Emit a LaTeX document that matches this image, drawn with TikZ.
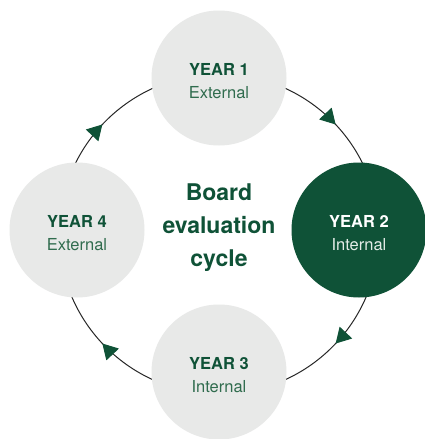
\documentclass[tikz,border=0pt]{standalone}
\usepackage{fontspec}
\setmainfont{TeX Gyre Heros}
\usetikzlibrary{arrows.meta,decorations.markings}
\definecolor{dkgreen}{RGB}{15,82,55}
\definecolor{midgreen}{RGB}{48,108,78}
\definecolor{ltgrey}{RGB}{232,233,232}
\definecolor{ltwhite}{RGB}{228,236,231}
\tikzset{
  yearbox/.style={circle, minimum size=135pt, inner sep=0pt, fill=ltgrey},
  yearboxdark/.style={yearbox, fill=dkgreen},
  yeartext/.style={align=center, font=\fontsize{16.5}{23}\selectfont, text=midgreen, inner sep=0pt},
  yeartextdark/.style={yeartext, text=ltwhite},
  ringline/.style={draw=black!85, line width=1pt},
  cyctip/.style={},
  cyclearrow/.style={postaction={decorate}, decoration={markings,
    mark=at position 0.12 with {\arrow{Triangle[length=15pt,width=17pt,fill=dkgreen,color=dkgreen]}},
    mark=at position 0.38 with {\arrow{Triangle[length=15pt,width=17pt,fill=dkgreen,color=dkgreen]}},
    mark=at position 0.62 with {\arrow{Triangle[length=15pt,width=17pt,fill=dkgreen,color=dkgreen]}},
    mark=at position 0.88 with {\arrow{Triangle[length=15pt,width=17pt,fill=dkgreen,color=dkgreen]}}}}
}
\begin{document}
\begin{tikzpicture}[x=1pt,y=-1pt]
\useasboundingbox (0,0) rectangle (425,439);
\fill[white] (0,0) rectangle (425,439);
\coordinate (ringc) at (219,234);
\draw[ringline, cyclearrow] (ringc) circle (160);
\node[yearbox] (y1) at (219,78) {};
\node[yearboxdark] (y2) at (359,230) {};
\node[yearbox] (y3) at (219,372) {};
\node[yearbox] (y4) at (77,230) {};
\node[yeartext, yshift=-3pt] (t1) at (y1) {{\bfseries\color{dkgreen}YEAR 1}\\External};
\node[yeartextdark, yshift=-3pt] (t2) at (y2) {{\bfseries\color{white}YEAR 2}\\Internal};
\node[yeartext, yshift=-3pt] (t3) at (y3) {{\bfseries\color{dkgreen}YEAR 3}\\Internal};
\node[yeartext, yshift=-3pt] (t4) at (y4) {{\bfseries\color{dkgreen}YEAR 4}\\External};
\node[align=center, font=\bfseries\fontsize{23}{33}\selectfont, text=dkgreen] (title) at (219,228) {Board\\evaluation\\cycle};
\end{tikzpicture}
\end{document}
